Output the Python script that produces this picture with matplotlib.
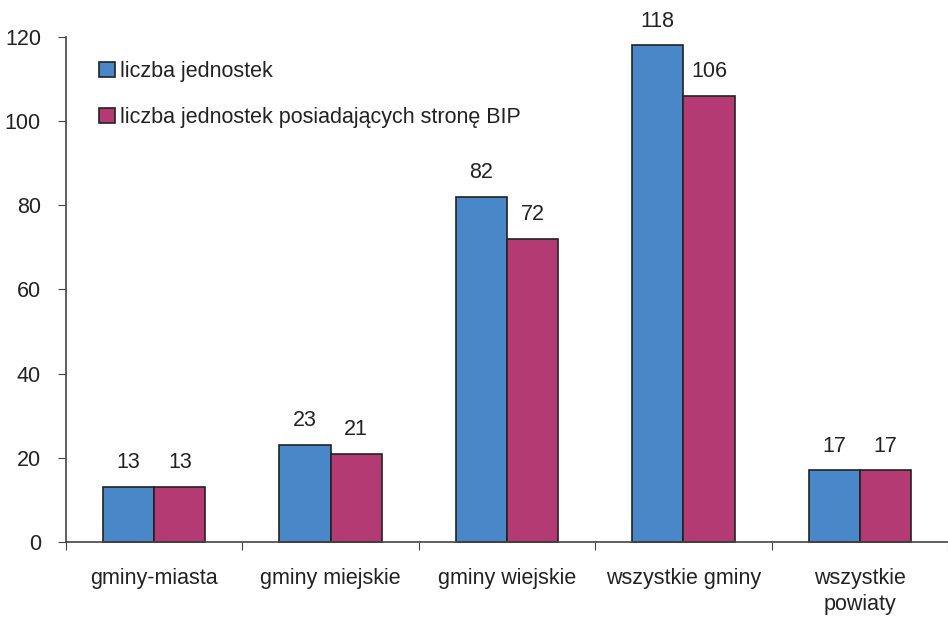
import matplotlib
matplotlib.use('Agg')
import matplotlib.pyplot as plt
import numpy as np

# data
categories = ['gminy-miasta', 'gminy miejskie', 'gminy wiejskie', 'wszystkie gminy', 'wszystkie\npowiaty']
units = [13, 23, 82, 118, 17]
units_bip = [13, 21, 72, 106, 17]
series_names = ['liczba jednostek', 'liczba jednostek posiadających stronę BIP']

plt.rcParams['font.family'] = ['Liberation Sans', 'DejaVu Sans']
txt = '#222222'
fs = 15.5

fig = plt.figure(figsize=(9.48, 6.17), dpi=100)
ax = fig.add_axes([0.0696, 0.1216, 0.9304, 0.8184])

x = np.arange(len(categories))
w = 0.29
b1 = ax.bar(x - w / 2, units, w, color='#4a87c8', edgecolor='#222222', linewidth=1.2, label=series_names[0])
b2 = ax.bar(x + w / 2, units_bip, w, color='#b33a73', edgecolor='#222222', linewidth=1.2, label=series_names[1])

for bars, vals in ((b1, units), (b2, units_bip)):
    for r, v in zip(bars, vals):
        ax.annotate(str(v), (r.get_x() + r.get_width() / 2, v), xytext=(0, 10),
                    textcoords='offset points', ha='center', va='bottom', fontsize=fs, color=txt)

ax.set_xlim(-0.5, len(categories) - 0.5)
ax.set_ylim(0, 120)
ax.set_yticks(np.arange(0, 121, 20))
ax.set_xticks(np.arange(-0.5, len(categories), 1.0))
ax.set_xticklabels([])
ax.set_xticks(x, minor=True)
ax.set_xticklabels(categories, minor=True, fontsize=fs, color=txt)
ax.tick_params(axis='x', which='minor', length=0, pad=19)
ax.tick_params(axis='x', which='major', length=6, direction='out', color='#444444')
ax.tick_params(axis='y', length=6, direction='out', color='#444444', labelsize=fs, labelcolor=txt, pad=12)
for lbl in ax.get_xticklabels(minor=True):
    lbl.set_linespacing(1.3)

for s in ('top', 'right'):
    ax.spines[s].set_visible(False)
for s in ('left', 'bottom'):
    ax.spines[s].set_color('#444444')
    ax.spines[s].set_linewidth(1.2)
for r in list(b1) + list(b2):
    r.set_clip_on(False)

ax.legend(loc='upper left', bbox_to_anchor=(0.016, 0.99), frameon=False, fontsize=fs,
          handlelength=0.7, handleheight=0.7, handletextpad=0.25, labelspacing=1.15,
          labelcolor=txt)

plt.savefig('out.png', dpi=100)
